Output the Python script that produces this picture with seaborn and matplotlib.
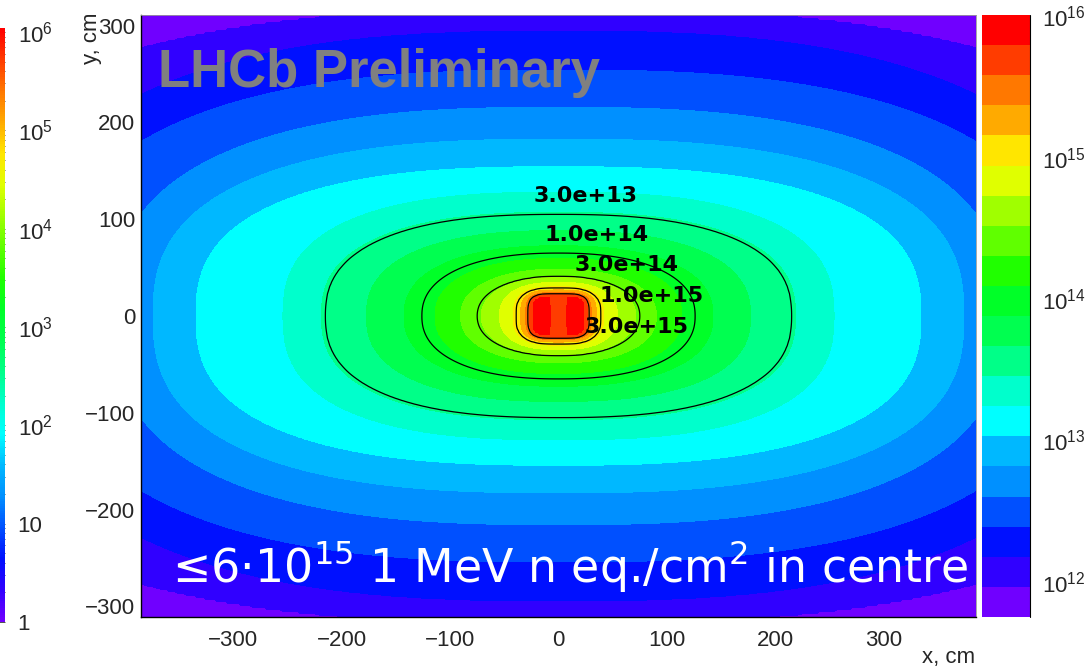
import numpy as np
import matplotlib
matplotlib.use("Agg")
import matplotlib.pyplot as plt
import seaborn as sns
from matplotlib.colors import LogNorm, ListedColormap
from matplotlib.cm import ScalarMappable
from matplotlib.ticker import (LogLocator, LogFormatterMathtext, MultipleLocator,
                               FixedLocator, FixedFormatter)

# Fluence contours: log10(level), half width in x / y (cm), shape exponent
contour_log10 = [11.96, 12.18, 12.39, 12.60, 12.82, 13.03, 13.24, 13.477, 14.0, 14.477, 15.0, 15.477, 15.80]
half_x_cm = [615, 508, 471, 411, 373, 334, 254, 215, 126, 75, 39, 28, 24]
half_y_cm = [318, 294, 254, 216, 182, 154, 128, 105, 65, 41, 29, 23, 20]
shape_exp = [2.6, 2.6, 2.6, 2.6, 2.6, 2.6, 2.6, 2.5, 2.3, 2.2, 3.0, 4.0, 5.0]
centre_log10 = 16.0
outside_log10 = 11.86
hole_half_cm = [9, 20]      # beam-pipe dip in the core (x, y)
hole_log10 = 15.72

# labelled contour lines
line_values = [3e13, 1e14, 3e14, 1e15, 3e15]
line_texts = ["3.0e+13", "1.0e+14", "3.0e+14", "1.0e+15", "3.0e+15"]
line_text_x = [25, 35, 63, 86, 72]
line_text_y = [124, 84, 53, 21, -11]

# z scale (20 colour bands)
z_lo_log10, z_hi_log10 = 11.75, 16.01
band_colors = ["#7000ff", "#3000ff", "#0010ff", "#0050ff", "#0090ff",
               "#00b8ff", "#00ffff", "#00ffcc", "#00ff88", "#00ff50",
               "#00ff28", "#20ff00", "#60ff00", "#a0ff00", "#e0ff00",
               "#ffe600", "#ffaa00", "#ff7800", "#ff3c00", "#ff0000"]

# neighbouring plot's colour scale, partly visible on the left edge
left_bar_ticks = [1, 10, 1e2, 1e3, 1e4, 1e5, 1e6]
left_bar_labels = ["1", "10", "$10^{2}$", "$10^{3}$", "$10^{4}$", "$10^{5}$", "$10^{6}$"]

sns.set_theme(style="ticks")
plt.rcParams["font.family"] = ["Liberation Sans", "DejaVu Sans"]
plt.rcParams["mathtext.fontset"] = "custom"
plt.rcParams["mathtext.rm"] = "Liberation Sans"
plt.rcParams["mathtext.it"] = "Liberation Sans:italic"
plt.rcParams["mathtext.bf"] = "Liberation Sans:bold"

# --- build the map from the contour table ---
xg = np.arange(-387, 388, 2.0)
yg = np.arange(-313, 314, 2.0)
X, Y = np.meshgrid(xg, yg)
L = np.array(contour_log10)
n = len(L)
s = np.stack([((np.abs(X) / a) ** p + (np.abs(Y) / b) ** p) ** (1.0 / p)
              for a, b, p in zip(half_x_cm, half_y_cm, shape_exp)])
d = np.log(np.maximum(s, 1e-9))
j = (s <= 1).sum(axis=0)
i_lo = np.clip(j - 1, 0, n - 1)
i_hi = np.clip(j, 0, n - 1)
d_lo = np.take_along_axis(d, i_lo[None], 0)[0]
d_hi = np.take_along_axis(d, i_hi[None], 0)[0]
den = np.where(np.abs(d_hi - d_lo) < 1e-12, 1.0, d_hi - d_lo)
frac = np.clip(-d_lo / den, 0, 1)
Z = L[i_lo] + frac * (L[i_hi] - L[i_lo])
Z[j == 0] = outside_log10
core = j == n
Z[core] = L[-1] + (centre_log10 - L[-1]) * (1 - s[-1][core])
hole = (np.abs(X) < hole_half_cm[0]) & (np.abs(Y) < hole_half_cm[1])
Z[hole] = np.minimum(Z[hole], hole_log10)
F = 10 ** Z

fig = plt.figure(figsize=(10.92, 6.71), dpi=100)
fig.patch.set_facecolor("white")
W, H = 1092, 671
ax = fig.add_axes([141 / W, 54 / H, 835 / W, 602 / H])

norm = LogNorm(10 ** z_lo_log10, 10 ** z_hi_log10)
band_cmap = ListedColormap(sns.color_palette(band_colors))
ax.contourf(X, Y, F, levels=np.logspace(z_lo_log10, z_hi_log10, 21),
            cmap=band_cmap, norm=norm, antialiased=False)
ax.contour(X, Y, F, levels=line_values, colors="black", linewidths=0.9)
for t, tx, ty in zip(line_texts, line_text_x, line_text_y):
    ax.text(tx, ty, t, ha="center", va="center", fontsize=16,
            fontweight="bold", color="black", family="DejaVu Sans")

ax.set_xlim(-385, 385)
ax.set_ylim(-311, 311)
ax.xaxis.set_major_locator(MultipleLocator(100))
ax.xaxis.set_minor_locator(MultipleLocator(20))
ax.yaxis.set_major_locator(MultipleLocator(100))
ax.yaxis.set_minor_locator(MultipleLocator(20))
ax.tick_params(axis="both", which="both", direction="in", color="black",
               width=0.8, top=False, right=False, labelsize=16)
ax.tick_params(axis="x", which="major", length=12, pad=9)
ax.tick_params(axis="x", which="minor", length=6)
ax.tick_params(axis="y", which="major", length=18, pad=4)
ax.tick_params(axis="y", which="minor", length=9)
for side in ["left", "bottom"]:
    ax.spines[side].set_color("black")
    ax.spines[side].set_linewidth(1.0)
for side in ["top", "right"]:
    ax.spines[side].set_color("#9a9a9a")
    ax.spines[side].set_linewidth(0.6)

ax.text(0.020, 0.880, "LHCb Preliminary", transform=ax.transAxes,
        color="#808080", fontsize=38, fontweight="bold", ha="left", va="baseline")
ax.text(0.037, 0.058, "\u22646\u00b710$^{15}$ 1 MeV n eq./cm$^{2}$ in centre",
        transform=ax.transAxes, color="white", fontsize=33, ha="left", va="baseline",
        family="DejaVu Sans", math_fontfamily="dejavusans")

fig.text(91 / W, 1 - 12 / H, "y, cm", rotation=90, ha="center", va="top", fontsize=16)
fig.text(975 / W, 1 - 658 / H, "x, cm", ha="right", va="center", fontsize=16)

# colour bar of this map
cax = fig.add_axes([982 / W, 54 / H, 48 / W, 602 / H])
cb = fig.colorbar(ScalarMappable(norm=norm, cmap=band_cmap), cax=cax)
cb.outline.set_visible(False)
cax.yaxis.set_major_locator(LogLocator(base=10))
cax.yaxis.set_minor_locator(LogLocator(base=10, subs=np.arange(2, 10)))
cax.yaxis.set_major_formatter(LogFormatterMathtext())
cax.tick_params(which="both", direction="in", color="black", width=0.8, right=True)
cax.tick_params(which="major", length=19, labelsize=16, pad=9)
cax.tick_params(which="minor", length=9)
cax.plot([1, 1], [0, 1], transform=cax.transAxes, color="black", lw=0.8, clip_on=False)

# cut-off colour bar of the neighbouring plot
cax2 = fig.add_axes([-30 / W, 49 / H, 35 / W, 594 / H])
left_cmap = sns.blend_palette(band_colors, n_colors=60, as_cmap=True)
cb2 = fig.colorbar(ScalarMappable(norm=LogNorm(1, 1.1e6), cmap=left_cmap), cax=cax2)
cb2.outline.set_visible(False)
cax2.yaxis.set_major_locator(FixedLocator(left_bar_ticks))
cax2.yaxis.set_major_formatter(FixedFormatter(left_bar_labels))
cax2.yaxis.set_minor_locator(LogLocator(base=10, subs=np.arange(2, 10)))
cax2.tick_params(which="both", direction="in", color="#333333", width=0.6, right=True)
cax2.tick_params(which="major", length=8, labelsize=16, pad=9)
cax2.tick_params(which="minor", length=4)

fig.savefig("out.png", dpi=100)
